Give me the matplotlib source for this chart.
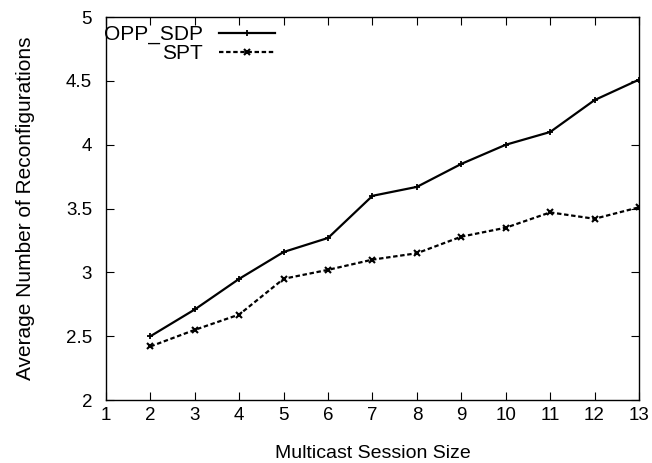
import matplotlib
matplotlib.use("Agg")
import matplotlib.pyplot as plt

# Dati
session_size = [2, 3, 4, 5, 6, 7, 8, 9, 10, 11, 12, 13]
opp_sdp = [2.50, 2.71, 2.95, 3.16, 3.27, 3.60, 3.67, 3.85, 4.00, 4.10, 4.35, 4.51]
spt = [2.42, 2.55, 2.67, 2.95, 3.02, 3.10, 3.15, 3.28, 3.35, 3.47, 3.42, 3.51]

plt.rcParams['font.family'] = ['Liberation Sans', 'DejaVu Sans']

fig = plt.figure(figsize=(6.52, 4.63), dpi=100)
ax = fig.add_axes([0.1626, 0.136, 0.8174, 0.827])

ax.plot(session_size, opp_sdp, color='black', linewidth=1.6, marker='+',
        markersize=5, markeredgewidth=1.3, label='OPP_SDP')
ax.plot(session_size, spt, color='black', linewidth=1.6, linestyle=(0, (2, 1.2)),
        marker='x', markersize=4.5, markeredgewidth=1.5, label='SPT')

ax.set_xlim(1, 13)
ax.set_ylim(2, 5)
ax.set_xticks(range(1, 14))
ax.set_yticks([2, 2.5, 3, 3.5, 4, 4.5, 5])
ax.set_yticklabels(['2', '2.5', '3', '3.5', '4', '4.5', '5'])

ax.tick_params(direction='in', top=True, right=True, length=6, labelsize=13.5)
ax.tick_params(axis='x', pad=5)
ax.tick_params(axis='y', pad=10)
for s in ax.spines.values():
    s.set_linewidth(1.0)

ax.set_xlabel("Multicast Session Size", fontsize=14, labelpad=15)
ax.set_ylabel("Average Number of Reconfigurations", fontsize=15, labelpad=22)

ax.legend(loc='upper left', bbox_to_anchor=(-0.01, 0.987), frameon=False,
          markerfirst=False, fontsize=15, handlelength=2.65, borderaxespad=0,
          labelspacing=0.0, handletextpad=0.8, borderpad=0.15)

fig.savefig("out.png", dpi=100)
